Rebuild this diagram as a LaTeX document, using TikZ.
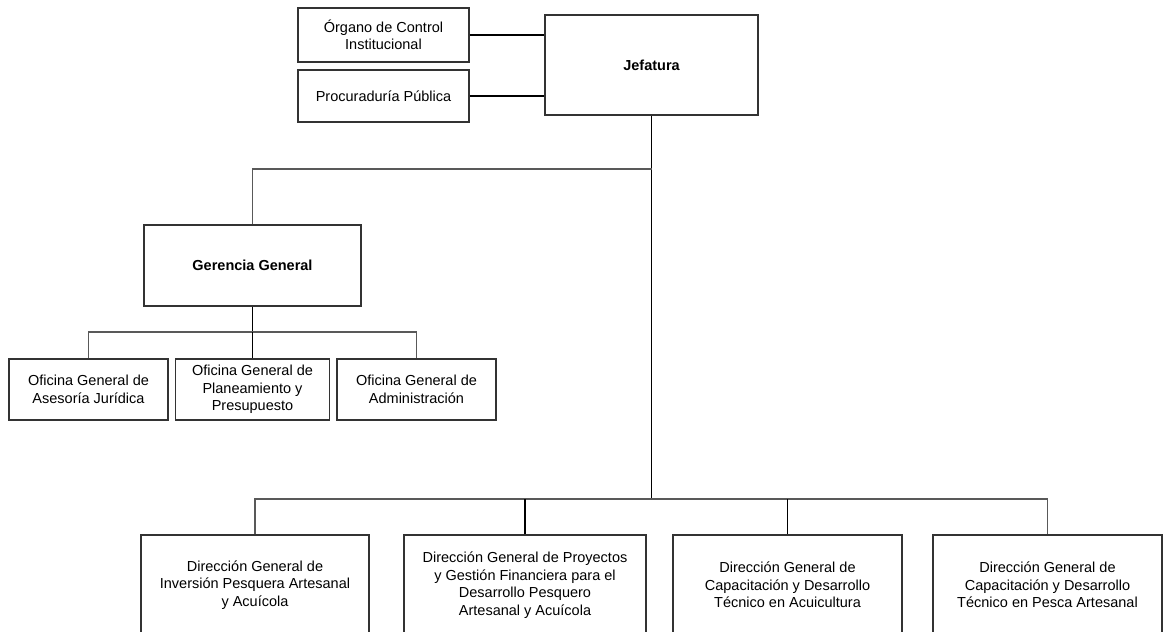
\documentclass[tikz,border=0pt]{standalone}
\usepackage{fontspec}
\setmainfont{Liberation Sans}
\usetikzlibrary{positioning}

\begin{document}
\begin{tikzpicture}[x=1pt, y=-1pt]
\tikzset{box/.style = {shape=rectangle, draw=black!80, line width=1.3pt, align=center, inner sep=2pt, font=\fontsize{14.5}{17.5}\selectfont}}
\tikzset{conn/.style = {draw=black!65, line width=1.1pt}}
\tikzset{main/.style = {draw=black, line width=1.6pt}}
\clip (0,0) rectangle (1163,632);

% top level
\node[box, minimum width=171pt, minimum height=54pt] (oci) at (383.5,35) {Órgano de Control\\Institucional};
\node[box, minimum width=171pt, minimum height=52pt] (pp) at (383.5,96) {Procuraduría Pública};
\node[box, minimum width=213pt, minimum height=100pt] (jef) at (651.5,65) {\bfseries Jefatura};

% gerencia and oficinas
\node[box, minimum width=217pt, minimum height=81pt] (gg) at (252.5,265.5) {\bfseries Gerencia General};
\node[box, minimum width=159pt, minimum height=61pt] (ogaj) at (88.5,389.5) {Oficina General de\\Asesoría Jurídica};
\node[box, minimum width=154pt, minimum height=61pt] (ogpp) at (252.5,389.5) {Oficina General de\\Planeamiento y\\Presupuesto};
\node[box, minimum width=159pt, minimum height=61pt] (oga) at (416.5,389.5) {Oficina General de\\Administración};

% direcciones generales
\node[box, minimum width=228pt, minimum height=100pt] (dg1) at (255,585) {Dirección General de\\Inversión Pesquera Artesanal\\y Acuícola};
\node[box, minimum width=242pt, minimum height=100pt] (dg2) at (525,585) {Dirección General de Proyectos\\y Gestión Financiera para el\\Desarrollo Pesquero\\Artesanal y Acuícola};
\node[box, minimum width=229pt, minimum height=100pt] (dg3) at (787.5,585) {Dirección General de\\Capacitación y Desarrollo\\Técnico en Acuicultura};
\node[box, minimum width=229pt, minimum height=100pt] (dg4) at (1047.5,585) {Dirección General de\\Capacitación y Desarrollo\\Técnico en Pesca Artesanal};

\coordinate (j1) at (651.5,169);
\coordinate (j2) at (651.5,499);
\coordinate (g1) at (252.5,332);

% lines
\draw[main] (oci.east) -- (oci.east -| jef.west);
\draw[main] (pp.east) -- (pp.east -| jef.west);
\draw[main] (jef.south) -- (j2);
\draw[conn] (j1) -| (gg.north);
\draw[main] (gg.south) -- (g1);
\draw[conn] (ogaj.north) |- (g1) -| (oga.north);
\draw[main] (g1) -- (ogpp.north);
\draw[conn] (dg1.north) |- (j2) -| (dg4.north);
\draw[main] (dg2.north) -- (dg2.north |- j2);
\draw[main] (dg3.north) -- (dg3.north |- j2);
\end{tikzpicture}
\end{document}
